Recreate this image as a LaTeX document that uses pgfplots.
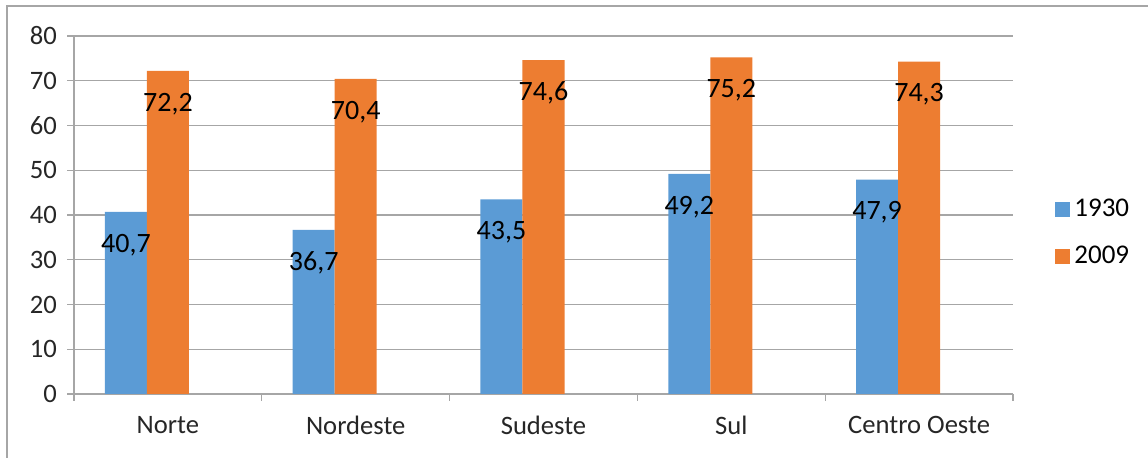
\documentclass[border=0pt]{standalone}
\usepackage{pgfplots}
\pgfplotsset{compat=1.18}
\usepackage{fontspec}
\setmainfont{Carlito}
\definecolor{azul}{HTML}{5B9BD5}
\definecolor{laranja}{HTML}{ED7D31}
\definecolor{grade}{HTML}{A6A6A6}

\begin{document}
\begin{tikzpicture}
\useasboundingbox (0,0) rectangle (574pt,229pt);
\draw[grade, line width=0.8pt] (3.5pt,0) -- (3.5pt,226pt) -- (574pt,226pt);
\begin{axis}[
    at={(37pt,32pt)}, anchor=south west,
    scale only axis,
    width=469.5pt, height=179pt,
    xmin=-0.5, xmax=4.5,
    ymin=0, ymax=80,
    ytick distance=10,
    xtick={0,1,2,3,4},
    xticklabels={Norte, Nordeste, Sudeste, Sul, Centro Oeste},
    minor xtick={-0.5,0.5,1.5,2.5,3.5,4.5},
    major x tick style={draw=none},
    minor tick length=3.5pt,
    major tick length=3.5pt,
    tick align=outside,
    xtick pos=bottom, ytick pos=left,
    axis x line*=bottom, axis y line*=left,
    axis line style={grade, line width=0.6pt, -},
    every tick/.style={grade, line width=0.6pt},
    ymajorgrids,
    grid style={grade, line width=0.6pt},
    tick label style={font=\fontsize{13.3}{15}\selectfont, text=black!85},
    yticklabel style={xshift=-1.5pt},
    xticklabel style={yshift=-4pt},
    /pgf/number format/assume math mode=true,
    ybar, bar width=21pt,
    nodes near coords,
    nodes near coords style={anchor=center, yshift=-16.5pt,
        font=\fontsize{14}{16}\selectfont, text=black,
        /pgf/number format/.cd, fixed, fixed zerofill, precision=1, use comma, assume math mode=true},
    legend style={at={(axis description cs:1,0.45)}, anchor=west, xshift=18pt,
        draw=none, fill=none, font=\fontsize{13.5}{15}\selectfont,
        row sep=9pt, /tikz/every even column/.append style={column sep=2pt}},
    legend cell align=left,
    legend image code/.code={\fill[#1] (0pt,-3.75pt) rectangle (7.5pt,3.75pt);},
]
\addplot[fill=azul, draw=none, bar shift=-21pt] coordinates {(0,40.7) (1,36.7) (2,43.5) (3,49.2) (4,47.9)};
\addplot[fill=laranja, draw=none, bar shift=0pt] coordinates {(0,72.2) (1,70.4) (2,74.6) (3,75.2) (4,74.3)};
\legend{1930, 2009}
\end{axis}
\end{tikzpicture}
\end{document}
